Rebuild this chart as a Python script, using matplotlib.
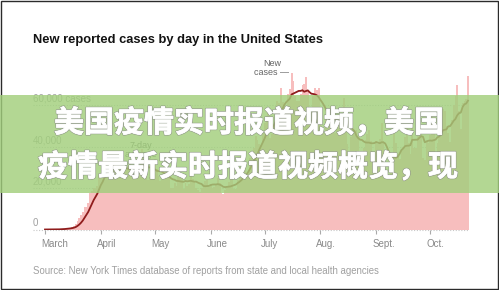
import numpy as np
import pandas as pd
import matplotlib
matplotlib.use('Agg')
import matplotlib.pyplot as plt
import matplotlib.patheffects as pe
from matplotlib.patches import Rectangle
from matplotlib.transforms import ScaledTranslation

# Daily new reported cases, Mar 1 - Oct 22
march = [10, 20, 25, 30, 70, 70, 110, 120, 200, 290, 420, 450, 610, 720, 930, 1180,
         1660, 2520, 4260, 5360, 6800, 8500, 10800, 10700, 12800, 17600, 18600,
         19800, 19300, 21200, 25700]
april = [27400, 28500, 32100, 33500, 26100, 30200, 31000, 32500, 34200, 33500,
         30500, 27900, 25500, 27800, 29500, 30600, 32000, 29900, 26900, 27200,
         27800, 28600, 31400, 38900, 34000, 27000, 23800, 25500, 29200, 29600]
may = [34000, 29200, 25600, 23300, 23800, 24600, 28000, 27400, 25600, 20200,
       19800, 22200, 20900, 27500, 26300, 24600, 19700, 22500, 20900, 21800,
       28600, 24500, 23400, 19800, 19100, 18300, 19900, 21900, 23600, 23900, 20300]
june = [21900, 20100, 20300, 21800, 24800, 22300, 17600, 17300, 18900, 21100,
        22900, 25200, 24500, 19600, 19500, 23700, 25300, 27900, 31600, 32300,
        26100, 28300, 34300, 37500, 39300, 45300, 43000, 41000, 40900, 46400]
july = [51300, 54500, 57400, 44300, 45900, 49700, 59100, 61900, 61100, 68400,
        61400, 59300, 58400, 65300, 67600, 75300, 71400, 64500, 61800, 61700,
        65300, 69800, 70300, 73700, 66800, 55500, 56700, 64400, 68300, 67200, 68100]
august = [57100, 47000, 46600, 53200, 55000, 57600, 59600, 53600, 46500, 49500,
          53500, 55300, 52200, 63500, 52600, 41000, 37100, 44400, 46700, 46400,
          48100, 44600, 35800, 36300, 39400, 43200, 45900, 48000, 42700, 35300, 37200]
september = [42700, 41300, 43800, 51300, 42500, 31400, 24800, 26300, 34200, 36600,
             47500, 41500, 35000, 34200, 38900, 39600, 44400, 49000, 41800, 36400,
             52300, 39100, 39500, 45000, 55500, 46900, 34600, 33700, 42100, 41700]
october = [45700, 54900, 48600, 36600, 41600, 44000, 50400, 58300, 57000, 49900,
           46700, 42100, 52700, 59900, 64400, 69400, 57200, 48600, 61000, 61800,
           62700, 74000]

month_labels = ['March', 'April', 'May', 'June', 'July', 'Aug.', 'Sept.', 'Oct.']
month_starts = ['2020-03-01', '2020-04-01', '2020-05-01', '2020-06-01',
                '2020-07-01', '2020-08-01', '2020-09-01', '2020-10-01']
y_ticks = [0, 20000, 40000, 60000]
y_labels = ['0', '20,000', '40,000', '60,000 cases']

cases = march + april + may + june + july + august + september + october
dates = pd.date_range('2020-03-01', periods=len(cases), freq='D')
df = pd.DataFrame({'cases': cases}, index=dates)
df['avg7'] = df.cases.rolling(7, min_periods=1).mean()
day = (df.index - dates[0]).days.values
tick_days = [(pd.to_datetime(m) - dates[0]).days for m in month_starts]

fig = plt.figure(figsize=(4.99, 2.90), dpi=100)
W, H = 499, 290
# axes: day 0 at x=45px, 1.8 px per day; baseline at y=229.5px
ax = fig.add_axes([40 / W, (H - 229.5) / H, 436 / W, 166 / H])
ax.set_xlim(-5 / 1.8, 431 / 1.8)
ax.set_ylim(0, 80000)

ax.bar(day, df.cases, width=1.0, color='#f7bebe', linewidth=0, zorder=2)
ax.plot(day, df.avg7, color='#8f1c1c', lw=1.3, zorder=3)

# dotted gridlines, running under the y labels
ax.hlines(y_ticks, -0.016, 0.985, transform=ax.get_yaxis_transform(),
          colors='#c8c8c8', linestyles=(0, (1, 1.5)), lw=0.8, clip_on=False, zorder=1)
for v, lab in zip(y_ticks, y_labels):
    ax.text(-0.016, v + 3100, lab, transform=ax.get_yaxis_transform(),
            ha='left', va='center', fontsize=7, color='#a0a0a0',
            family='Liberation Sans', zorder=4)

for s in ax.spines.values():
    s.set_visible(False)
ax.set_yticks([])
ax.set_xticks(tick_days)
ax.set_xticklabels(month_labels, family='Liberation Sans')
ax.tick_params(axis='x', length=3, width=0.8, color='#aaaaaa', labelsize=7,
               labelcolor='#8a8a8a', pad=3.5)
for lbl in ax.get_xticklabels():
    lbl.set_ha('left')
    lbl.set_transform(lbl.get_transform() + ScaledTranslation(-4 / 100, 0, fig.dpi_scale_trans))

fig.text(272 / W, 1 - 59 / H, 'New\ncases \u2014', ha='center', va='top',
         fontsize=6.5, color='#666666', family='Liberation Sans', linespacing=1.0)
fig.text(141 / W, 1 - 150 / H, '7-day\naverage', ha='center', va='center',
         fontsize=6.5, color='#666666', family='Liberation Sans', linespacing=1.0)

fig.text(33 / W, 1 - 39.5 / H, 'New reported cases by day in the United States',
         ha='left', va='center', fontsize=9.3, fontweight='bold', color='#121212',
         family='Liberation Sans')
fig.text(33 / W, 1 - 271 / H,
         'Source: New York Times database of reports from state and local health agencies',
         ha='left', va='center', fontsize=6.9, color='#a0a0a0', family='Liberation Sans')

# frame around the screenshot
fig.patches.append(Rectangle((0.5 / W, 1.5 / H), 497 / W, 288 / H, fill=False,
                             edgecolor='#2b2b2b', lw=1.0, transform=fig.transFigure,
                             zorder=4))
# green banner with the headline
fig.patches.append(Rectangle((0, (H - 193) / H), 1, 98 / H, facecolor='#a2cf7c',
                             alpha=0.82, lw=0, transform=fig.transFigure, zorder=5))
cjk = ['Noto Sans CJK SC', 'DejaVu Sans']
stroke = [pe.Stroke(linewidth=1.5, foreground='#8a8a8a', alpha=0.7),
          pe.Stroke(linewidth=0.5, foreground='white'), pe.Normal()]
fig.text(0.499, 1 - 123 / H, '美国疫情实时报道视频，美国', ha='center', va='center',
         fontsize=21.6, fontweight='heavy', color='white', family=cjk,
         path_effects=stroke, zorder=6)
fig.text(0.497, 1 - 167 / H, '疫情最新实时报道视频概览，现', ha='center', va='center',
         fontsize=21.6, fontweight='heavy', color='white', family=cjk,
         path_effects=stroke, zorder=6)

fig.savefig('out.png', dpi=100)
